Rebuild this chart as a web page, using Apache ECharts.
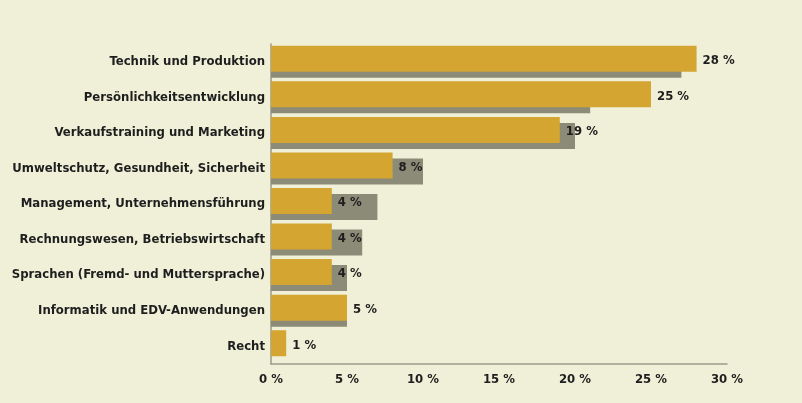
<!DOCTYPE html>
<html>
<head>
<meta charset="utf-8">
<script src="https://cdn.jsdelivr.net/npm/echarts@6/dist/echarts.min.js"></script>
<style>
html,body{margin:0;padding:0;background:#eff0d7;}
#c{width:802px;height:403px;}
</style>
</head>
<body>
<div id="c"></div>
<script>
const categories = [
  "Technik und Produktion",
  "Persönlichkeitsentwicklung",
  "Verkaufstraining und Marketing",
  "Umweltschutz, Gesundheit, Sicherheit",
  "Management, Unternehmensführung",
  "Rechnungswesen, Betriebswirtschaft",
  "Sprachen (Fremd- und Muttersprache)",
  "Informatik und EDV-Anwendungen",
  "Recht"
];
const currentValues = [28, 25, 19, 8, 4, 4, 4, 5, 1];
const previousValues = [27, 21, 20, 10, 7, 6, 5, 5, null];
const xTicks = [0, 5, 10, 15, 20, 25, 30];

const font = '"DejaVu Sans Condensed","Liberation Sans Narrow",sans-serif';
const chart = echarts.init(document.getElementById('c'));
chart.setOption({
  backgroundColor: '#eff0d7',
  animation: false,
  grid: { left: 271, right: 75, top: 44, bottom: 39, containLabel: false, outerBoundsMode: 'none' },
  xAxis: {
    type: 'value', min: xTicks[0], max: xTicks[xTicks.length - 1], interval: 5,
    axisLine: { show: true, lineStyle: { color: '#9a9a8a', width: 1.5 } },
    axisTick: { show: false },
    splitLine: { show: false },
    axisLabel: { formatter: '{value} %', fontFamily: font, fontWeight: 'bold', fontSize: 13, color: '#1e1e1e', margin: 9 }
  },
  yAxis: {
    type: 'category', inverse: true, data: categories,
    axisLine: { show: true, lineStyle: { color: '#9a9a8a', width: 1.5 } },
    axisTick: { show: false },
    axisLabel: { fontFamily: font, fontWeight: 'bold', fontSize: 13, color: '#1e1e1e', margin: 6 }
  },
  series: [
    {
      name: 'aktuell', type: 'bar', data: currentValues, z: 3,
      barWidth: 26, barGap: '-77%',
      itemStyle: { color: '#d5a532' },
      label: { show: true, position: 'right', distance: 6, offset: [0, 2], formatter: '{c} %', fontFamily: font, fontWeight: 'bold', fontSize: 13, color: '#1e1e1e' }
    },
    {
      name: 'vorher', type: 'bar', data: previousValues, z: 2,
      barWidth: 26,
      itemStyle: { color: '#8b8b77' }
    }
  ]
});
</script>
</body>
</html>
